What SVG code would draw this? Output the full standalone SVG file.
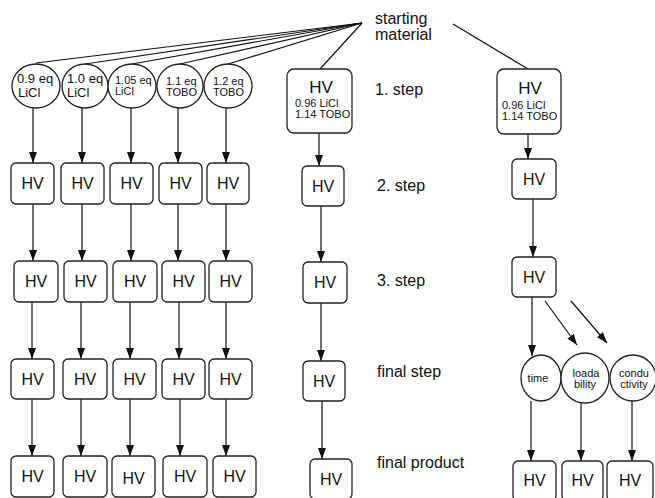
<svg xmlns="http://www.w3.org/2000/svg" width="655" height="498" viewBox="0 0 655 498">
  <defs>
    <marker id="arrow" markerUnits="userSpaceOnUse" markerWidth="11" markerHeight="8" refX="11" refY="4" orient="auto">
      <path d="M0,0 L11,4 L0,8 z" fill="#111"/>
    </marker>
  </defs>
  <style>
    .box { fill: #fff; stroke: #222; stroke-width: 1.3; }
    .circ { fill: #fff; stroke: #222; stroke-width: 1.3; }
    .hv { font-family: "Liberation Sans", Arial, sans-serif; font-size: 16px; fill: #111; text-anchor: middle; }
    .sm { font-family: "Liberation Sans", Arial, sans-serif; font-size: 11px; fill: #111; }
    .md { font-family: "Liberation Sans", Arial, sans-serif; font-size: 13px; fill: #111; }
    .tiny { font-family: "Liberation Sans", Arial, sans-serif; font-size: 11px; fill: #111; text-anchor: middle; }
    .lbl { font-family: "Liberation Sans", Arial, sans-serif; font-size: 16px; fill: #111; }
    .edge { stroke: #111; stroke-width: 1.2; fill: none; }
    .arr { stroke: #111; stroke-width: 1.2; fill: none; marker-end: url(#arrow); }
  </style>
  <rect width="655" height="498" fill="#fff"/>

  <!-- connectors -->
  <g id="connectors">
    <!-- fan from starting material -->
    <line class="edge" x1="362" y1="23" x2="36" y2="63"/>
    <line class="edge" x1="362" y1="23" x2="85" y2="64"/>
    <line class="edge" x1="362" y1="23" x2="132" y2="64"/>
    <line class="edge" x1="362" y1="23" x2="180" y2="64"/>
    <line class="edge" x1="362" y1="23" x2="228" y2="64"/>
    <line class="edge" x1="362" y1="23" x2="320" y2="69"/>
    <line class="edge" x1="453" y1="24" x2="528" y2="69"/>

    <!-- left five columns -->
    <line class="arr" x1="33" y1="108" x2="33" y2="163"/>
    <line class="arr" x1="82" y1="108" x2="82" y2="163"/>
    <line class="arr" x1="131" y1="108" x2="131" y2="163"/>
    <line class="arr" x1="178" y1="108" x2="178" y2="163"/>
    <line class="arr" x1="226" y1="108" x2="226" y2="163"/>

    <line class="arr" x1="33" y1="204" x2="33" y2="261"/>
    <line class="arr" x1="82" y1="204" x2="82" y2="261"/>
    <line class="arr" x1="131" y1="204" x2="131" y2="261"/>
    <line class="arr" x1="178" y1="204" x2="178" y2="261"/>
    <line class="arr" x1="226" y1="204" x2="226" y2="261"/>

    <line class="arr" x1="32" y1="302" x2="32" y2="359"/>
    <line class="arr" x1="81" y1="302" x2="81" y2="359"/>
    <line class="arr" x1="130" y1="302" x2="130" y2="359"/>
    <line class="arr" x1="179" y1="302" x2="179" y2="359"/>
    <line class="arr" x1="226" y1="302" x2="226" y2="359"/>

    <line class="arr" x1="32" y1="399" x2="32" y2="456"/>
    <line class="arr" x1="81" y1="399" x2="81" y2="456"/>
    <line class="arr" x1="130" y1="399" x2="130" y2="456"/>
    <line class="arr" x1="180" y1="399" x2="180" y2="456"/>
    <line class="arr" x1="226" y1="399" x2="226" y2="456"/>

    <!-- middle column -->
    <line class="arr" x1="319" y1="133" x2="319" y2="166"/>
    <line class="arr" x1="321" y1="206" x2="321" y2="262"/>
    <line class="arr" x1="321" y1="303" x2="321" y2="361"/>
    <line class="arr" x1="322" y1="401" x2="322" y2="459"/>

    <!-- right column -->
    <line class="arr" x1="528" y1="134" x2="528" y2="159"/>
    <line class="arr" x1="533" y1="199" x2="533" y2="257"/>
    <line class="arr" x1="532" y1="297" x2="532" y2="356"/>
    <line class="arr" x1="545" y1="301" x2="577" y2="345"/>
    <line class="arr" x1="571" y1="301" x2="607" y2="343"/>
    <line class="arr" x1="531" y1="401" x2="531" y2="461"/>
    <line class="arr" x1="581" y1="403" x2="581" y2="461"/>
    <line class="arr" x1="632" y1="400" x2="632" y2="461"/>
  </g>

  <!-- step labels -->
  <g id="labels">
    <text class="lbl" x="375" y="24">starting</text>
    <text class="lbl" x="375" y="40">material</text>
    <text class="lbl" x="375" y="95">1. step</text>
    <text class="lbl" x="377" y="191">2. step</text>
    <text class="lbl" x="377" y="286">3. step</text>
    <text class="lbl" x="377" y="377">final step</text>
    <text class="lbl" x="377" y="468">final product</text>
  </g>

  <!-- first-step reagent circles -->
  <g id="c1"><ellipse class="circ" cx="36" cy="86" rx="24" ry="22"/><text class="md" x="17" y="83">0.9 eq</text><text class="md" x="18" y="97">LiCl</text></g>
  <g id="c2"><ellipse class="circ" cx="85" cy="86" rx="23" ry="22"/><text class="md" x="67" y="83">1.0 eq</text><text class="md" x="67" y="97">LiCl</text></g>
  <g id="c3"><ellipse class="circ" cx="132" cy="86" rx="24" ry="22"/><text class="sm" x="115" y="84">1.05 eq</text><text class="sm" x="115" y="95">LiCl</text></g>
  <g id="c4"><ellipse class="circ" cx="180" cy="86" rx="23" ry="22"/><text class="sm" x="166" y="85">1.1 eq</text><text class="sm" x="166" y="96">TOBO</text></g>
  <g id="c5"><ellipse class="circ" cx="228" cy="86" rx="24" ry="22"/><text class="sm" x="213" y="85">1.2 eq</text><text class="sm" x="213" y="96">TOBO</text></g>

  <!-- left columns: step 2 -->
  <g id="a1"><rect class="box" x="11" y="163" width="43" height="41" rx="5"/><text class="hv" x="32.5" y="189">HV</text></g>
  <g id="a2"><rect class="box" x="61" y="163" width="43" height="41" rx="5"/><text class="hv" x="82.5" y="189">HV</text></g>
  <g id="a3"><rect class="box" x="110" y="163" width="43" height="41" rx="5"/><text class="hv" x="131.5" y="189">HV</text></g>
  <g id="a4"><rect class="box" x="159" y="163" width="43" height="41" rx="5"/><text class="hv" x="180.5" y="189">HV</text></g>
  <g id="a5"><rect class="box" x="207" y="163" width="42" height="41" rx="5"/><text class="hv" x="228" y="189">HV</text></g>

  <!-- left columns: step 3 -->
  <g id="b1"><rect class="box" x="14" y="261" width="44" height="41" rx="5"/><text class="hv" x="36" y="287">HV</text></g>
  <g id="b2"><rect class="box" x="64" y="261" width="43" height="41" rx="5"/><text class="hv" x="85.5" y="287">HV</text></g>
  <g id="b3"><rect class="box" x="113" y="261" width="44" height="41" rx="5"/><text class="hv" x="135" y="287">HV</text></g>
  <g id="b4"><rect class="box" x="162" y="261" width="43" height="41" rx="5"/><text class="hv" x="183.5" y="287">HV</text></g>
  <g id="b5"><rect class="box" x="209" y="261" width="43" height="41" rx="5"/><text class="hv" x="230.5" y="287">HV</text></g>

  <!-- left columns: final step -->
  <g id="f1"><rect class="box" x="11" y="359" width="43" height="40" rx="5"/><text class="hv" x="32.5" y="385">HV</text></g>
  <g id="f2"><rect class="box" x="63" y="359" width="44" height="40" rx="5"/><text class="hv" x="85" y="385">HV</text></g>
  <g id="f3"><rect class="box" x="113" y="359" width="43" height="40" rx="5"/><text class="hv" x="134.5" y="385">HV</text></g>
  <g id="f4"><rect class="box" x="162" y="359" width="43" height="40" rx="5"/><text class="hv" x="183.5" y="385">HV</text></g>
  <g id="f5"><rect class="box" x="209" y="359" width="43" height="40" rx="5"/><text class="hv" x="230.5" y="385">HV</text></g>

  <!-- left columns: final product -->
  <g id="p1"><rect class="box" x="11" y="456" width="43" height="41" rx="5"/><text class="hv" x="32.5" y="482">HV</text></g>
  <g id="p2"><rect class="box" x="63" y="456" width="44" height="41" rx="5"/><text class="hv" x="85" y="482">HV</text></g>
  <g id="p3"><rect class="box" x="112" y="456" width="43" height="41" rx="5"/><text class="hv" x="133.5" y="484">HV</text></g>
  <g id="p4"><rect class="box" x="163" y="456" width="44" height="41" rx="5"/><text class="hv" x="185" y="482">HV</text></g>
  <g id="p5"><rect class="box" x="213" y="456" width="43" height="41" rx="5"/><text class="hv" x="234.5" y="482">HV</text></g>

  <!-- middle column -->
  <g id="m1"><rect class="box" x="287" y="69" width="65" height="64" rx="7"/><text class="hv" x="321" y="93" style="font-size:17px">HV</text><text class="sm" x="295" y="107">0.96 LiCl</text><text class="sm" x="295" y="118">1.14 TOBO</text></g>
  <g id="m2"><rect class="box" x="302" y="166" width="42" height="40" rx="5"/><text class="hv" x="323" y="192">HV</text></g>
  <g id="m3"><rect class="box" x="303" y="262" width="44" height="41" rx="5"/><text class="hv" x="325" y="288">HV</text></g>
  <g id="m4"><rect class="box" x="303" y="361" width="42" height="40" rx="5"/><text class="hv" x="324" y="387">HV</text></g>
  <g id="m5"><rect class="box" x="310" y="459" width="42" height="40" rx="5"/><text class="hv" x="331" y="485">HV</text></g>

  <!-- right column -->
  <g id="r1"><rect class="box" x="497" y="69" width="64" height="65" rx="7"/><text class="hv" x="530" y="94" style="font-size:17px">HV</text><text class="sm" x="502" y="109">0.96 LiCl</text><text class="sm" x="502" y="120">1.14 TOBO</text></g>
  <g id="r2"><rect class="box" x="512" y="159" width="44" height="40" rx="5"/><text class="hv" x="534" y="185">HV</text></g>
  <g id="r3"><rect class="box" x="512" y="257" width="44" height="40" rx="5"/><text class="hv" x="534" y="283">HV</text></g>

  <g id="time"><ellipse class="circ" cx="541" cy="378" rx="20" ry="23"/><text class="tiny" x="538" y="382">time</text></g>
  <g id="loadability"><ellipse class="circ" cx="585" cy="378" rx="24" ry="25"/><text class="tiny" x="586" y="377">loada</text><text class="tiny" x="585" y="388">bility</text></g>
  <g id="conductivity"><ellipse class="circ" cx="633" cy="378" rx="23" ry="23"/><text class="tiny" x="634" y="377">condu</text><text class="tiny" x="634" y="388">ctivity</text></g>

  <g id="q1"><rect class="box" x="513" y="461" width="43" height="40" rx="5"/><text class="hv" x="534.5" y="486">HV</text></g>
  <g id="q2"><rect class="box" x="562" y="461" width="41" height="40" rx="5"/><text class="hv" x="582.5" y="486">HV</text></g>
  <g id="q3"><rect class="box" x="607" y="461" width="46" height="40" rx="5"/><text class="hv" x="630" y="486">HV</text></g>
</svg>
